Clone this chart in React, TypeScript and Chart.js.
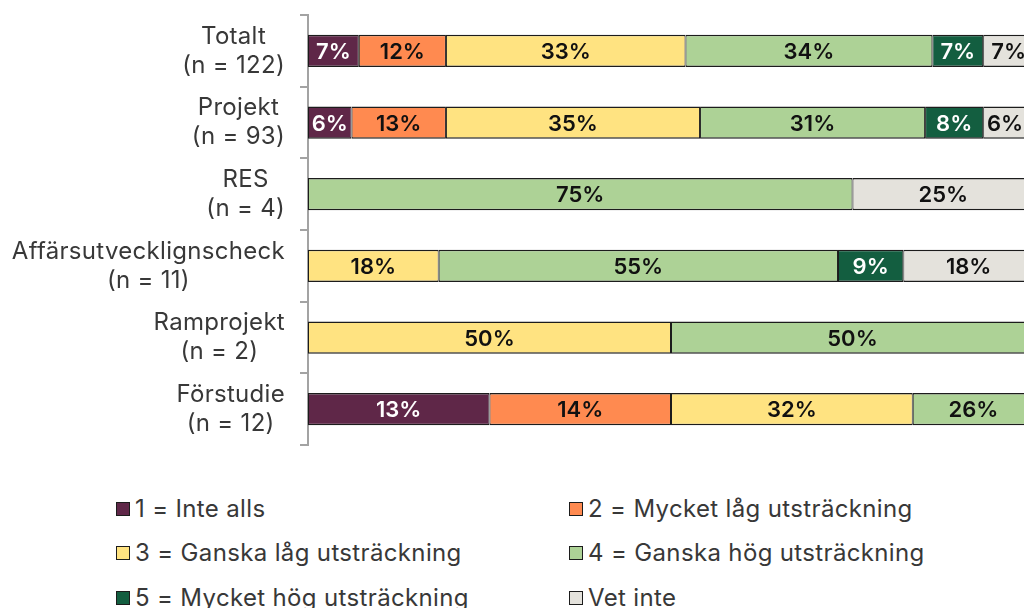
import React, { useEffect, useRef } from "react";
import { Chart, registerables } from "chart.js";

Chart.register(...registerables);

const FONT = "Inter, 'DejaVu Sans', sans-serif";

// Categories (y axis), top to bottom
const categories: string[][] = [
  ["Totalt", "(n = 122)"],
  ["Projekt", "(n = 93)"],
  ["RES", "(n = 4)"],
  ["Affärsutvecklignscheck", "(n = 11)"],
  ["Ramprojekt", "(n = 2)"],
  ["Förstudie", "(n = 12)"],
];

const seriesNames = [
  "1 = Inte alls",
  "2 = Mycket låg utsträckning",
  "3 = Ganska låg utsträckning",
  "4 = Ganska hög utsträckning",
  "5 = Mycket hög utsträckning",
  "Vet inte",
];

const seriesColors = ["#5F2748", "#FF8A50", "#FFE381", "#ADD296", "#135E40", "#E4E2DC"];
const labelColors = ["#FFFFFF", "#111111", "#111111", "#111111", "#FFFFFF", "#111111"];

// Segment widths (percent)
const inteAlls = [7, 6, null, null, null, 25];
const mycketLag = [12, 13, null, null, null, 25];
const ganskaLag = [33, 35, null, 18, 50, 33.3];
const ganskaHog = [34, 31, 75, 55, 50, 16.7];
const mycketHog = [7, 8, null, 9, null, null];
const vetInte = [7, 6, 25, 18, null, null];

// Printed labels of the Förstudie row (differ from its bar widths in the original)
const forstudieIndex = 5;
const forstudieLabels = ["13%", "14%", "32%", "26%", "", ""];

const seriesValues = [inteAlls, mycketLag, ganskaLag, ganskaHog, mycketHog, vetInte];

const segmentLabels = {
  id: "segmentLabels",
  afterDatasetsDraw(chart: any) {
    const ctx = chart.ctx;
    ctx.save();
    ctx.font = `600 22px ${FONT}`;
    ctx.textAlign = "center";
    ctx.textBaseline = "middle";
    chart.data.datasets.forEach((ds: any, di: number) => {
      const meta = chart.getDatasetMeta(di);
      meta.data.forEach((el: any, i: number) => {
        const v = ds.data[i];
        if (v == null) return;
        const text = i === forstudieIndex ? forstudieLabels[di] : `${v}%`;
        if (!text) return;
        const p = el.getProps(["x", "base", "y"], true);
        ctx.fillStyle = labelColors[di];
        ctx.fillText(text, (p.x + p.base) / 2, p.y + 1.5);
      });
    });
    ctx.restore();
  },
};

// Category labels: each block right-aligned to the axis, its lines centred on each other
const categoryLabels = {
  id: "categoryLabels",
  afterDraw(chart: any) {
    const ctx = chart.ctx;
    const yScale = chart.scales.y;
    const rightEdge = yScale.right - 8 - 15;
    const lineH = 29;
    ctx.save();
    ctx.font = `24px ${FONT}`;
    try {
      (ctx as any).letterSpacing = "0.3px";
    } catch (e) {}
    ctx.fillStyle = "#383838";
    ctx.textAlign = "center";
    ctx.textBaseline = "middle";
    (chart.data.labels as string[][]).forEach((lines, i) => {
      const yc = yScale.getPixelForTick(i);
      const widest = Math.max(...lines.map((l) => ctx.measureText(l).width));
      const cx = rightEdge - widest / 2;
      lines.forEach((line, j) => {
        const y = yc + (j - (lines.length - 1) / 2) * lineH;
        ctx.fillText(line, cx, y);
      });
    });
    ctx.restore();
  },
};

export default function App() {
  const ref = useRef<HTMLCanvasElement | null>(null);

  useEffect(() => {
    if (!ref.current) return;
    const chart = new Chart(ref.current, {
      type: "bar",
      data: {
        labels: categories,
        datasets: seriesValues.map((vals, i) => ({
          label: seriesNames[i],
          data: vals,
          backgroundColor: seriesColors[i],
          borderColor: "#1c1c1c",
          borderWidth: { top: 1.5, bottom: 1.5, left: 1, right: 1 },
          borderSkipped: false,
          barPercentage: 0.45,
          categoryPercentage: 1,
        })),
      },
      options: {
        indexAxis: "y",
        responsive: false,
        animation: false,
        layout: { padding: { top: 15, bottom: 15, left: 0, right: 2 } },
        plugins: {
          legend: { display: false },
          tooltip: { enabled: false },
        },
        scales: {
          x: {
            stacked: true,
            min: 0,
            max: 100,
            display: false,
          },
          y: {
            stacked: true,
            afterFit: (scale: any) => {
              scale.width = 308;
              scale.paddingTop = 0;
              scale.paddingBottom = 0;
            },
            grid: {
              drawOnChartArea: false,
              drawTicks: true,
              tickLength: 8,
              color: "#A3A3A3",
              lineWidth: 2,
              offset: true,
            },
            border: { display: true, color: "#A3A3A3", width: 2 },
            ticks: { display: false },
          },
        },
      },
      plugins: [segmentLabels, categoryLabels],
    });
    return () => chart.destroy();
  }, []);

  return (
    <div
      style={{
        position: "fixed",
        left: 0,
        top: 0,
        width: 1024,
        height: 608,
        overflow: "hidden",
        background: "#fff",
      }}
    >
      <canvas ref={ref} width={1036} height={460} style={{ display: "block" }} />
      {seriesNames.map((name, i) => {
        const row = Math.floor(i / 2);
        const col = i % 2;
        return (
          <div
            key={name}
            style={{
              position: "absolute",
              left: 116 + col * 453,
              top: 486.5 + row * 44.5,
              height: 44.5,
              display: "flex",
              alignItems: "center",
              fontFamily: FONT,
              fontSize: 24,
              letterSpacing: "0.35px",
              color: "#383838",
              whiteSpace: "nowrap",
              lineHeight: 1,
            }}
          >
            <span
              style={{
                display: "inline-block",
                width: 12,
                height: 12,
                background: seriesColors[i],
                border: "1.5px solid #1c1c1c",
                marginRight: 5,
              }}
            />
            <span>{name}</span>
          </div>
        );
      })}
    </div>
  );
}
